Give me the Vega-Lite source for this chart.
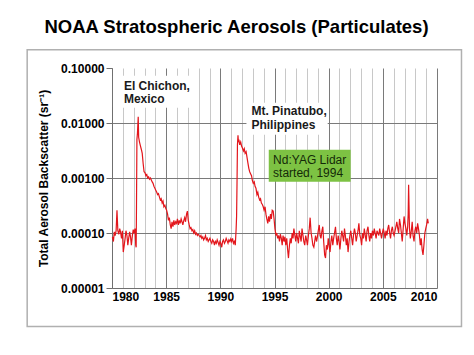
{
  "$schema": "https://vega.github.io/schema/vega-lite/v6.json",
  "width": 325,
  "height": 220,
  "autosize": {"type": "none"},
  "padding": {"left": 112, "top": 68, "right": 37, "bottom": 67},
  "background": "white",
  "config": {"font": "Liberation Sans", "view": {"stroke": null}},
  "title": {
    "text": "NOAA Stratospheric Aerosols (Particulates)",
    "fontSize": 18.5,
    "fontWeight": "bold",
    "font": "Liberation Sans",
    "color": "black",
    "anchor": "middle",
    "dx": -38,
    "offset": 12
  },
  "datasets": {
    "series": [
      {"t":1980.04,"v":0.000085},{"t":1980.13,"v":0.00007},{"t":1980.21,"v":0.000105},{"t":1980.29,"v":0.00009},{"t":1980.38,"v":0.00011},{"t":1980.46,"v":0.00026},{"t":1980.54,"v":0.00011},{"t":1980.63,"v":0.000095},{"t":1980.71,"v":0.00012},{"t":1980.79,"v":0.000105},{"t":1980.88,"v":0.00008},{"t":1980.96,"v":0.00011},
      {"t":1981.04,"v":0.000045},{"t":1981.13,"v":0.00006},{"t":1981.21,"v":0.00008},{"t":1981.29,"v":0.00011},{"t":1981.38,"v":0.00009},{"t":1981.46,"v":0.00006},{"t":1981.54,"v":0.00008},{"t":1981.63,"v":0.000105},{"t":1981.71,"v":0.000085},{"t":1981.79,"v":0.00006},{"t":1981.88,"v":0.00009},{"t":1981.96,"v":0.000115},
      {"t":1982.04,"v":0.0001},{"t":1982.13,"v":0.00012},{"t":1982.19,"v":0.00006},{"t":1982.23,"v":0.000055},{"t":1982.26,"v":0.0003},{"t":1982.3,"v":0.005},{"t":1982.35,"v":0.0065},{"t":1982.42,"v":0.013},{"t":1982.46,"v":0.0055},{"t":1982.54,"v":0.0045},{"t":1982.63,"v":0.0038},{"t":1982.71,"v":0.0033},{"t":1982.79,"v":0.0028},{"t":1982.88,"v":0.0018},{"t":1982.96,"v":0.0013},
      {"t":1983.04,"v":0.00125},{"t":1983.13,"v":0.0011},{"t":1983.21,"v":0.00115},{"t":1983.29,"v":0.001},{"t":1983.38,"v":0.00105},{"t":1983.46,"v":0.00095},{"t":1983.54,"v":0.001},{"t":1983.63,"v":0.00092},{"t":1983.71,"v":0.00085},{"t":1983.79,"v":0.0008},{"t":1983.88,"v":0.0007},{"t":1983.96,"v":0.00065},
      {"t":1984.04,"v":0.0006},{"t":1984.13,"v":0.00055},{"t":1984.21,"v":0.0005},{"t":1984.29,"v":0.00052},{"t":1984.38,"v":0.00045},{"t":1984.46,"v":0.0004},{"t":1984.54,"v":0.00042},{"t":1984.63,"v":0.00035},{"t":1984.71,"v":0.00038},{"t":1984.79,"v":0.0003},{"t":1984.88,"v":0.00032},{"t":1984.96,"v":0.00028},
      {"t":1985.04,"v":0.00026},{"t":1985.13,"v":0.00022},{"t":1985.21,"v":0.00017},{"t":1985.29,"v":0.00019},{"t":1985.38,"v":0.00014},{"t":1985.46,"v":0.00012},{"t":1985.54,"v":0.00016},{"t":1985.63,"v":0.00013},{"t":1985.71,"v":0.00017},{"t":1985.79,"v":0.00014},{"t":1985.88,"v":0.00016},{"t":1985.96,"v":0.00015},
      {"t":1986.04,"v":0.00018},{"t":1986.13,"v":0.00014},{"t":1986.21,"v":0.00017},{"t":1986.29,"v":0.00015},{"t":1986.38,"v":0.00018},{"t":1986.46,"v":0.00016},{"t":1986.54,"v":0.00014},{"t":1986.63,"v":0.00017},{"t":1986.71,"v":0.00019},{"t":1986.79,"v":0.00016},{"t":1986.88,"v":0.00022},{"t":1986.96,"v":0.00025},
      {"t":1987.04,"v":0.00017},{"t":1987.13,"v":0.00014},{"t":1987.21,"v":0.00012},{"t":1987.29,"v":0.000125},{"t":1987.38,"v":0.00011},{"t":1987.46,"v":0.000115},{"t":1987.54,"v":0.0001},{"t":1987.63,"v":0.00011},{"t":1987.71,"v":0.000095},{"t":1987.79,"v":0.0001},{"t":1987.88,"v":0.00009},{"t":1987.96,"v":0.000095},
      {"t":1988.04,"v":0.00009},{"t":1988.13,"v":0.000085},{"t":1988.21,"v":0.00009},{"t":1988.29,"v":0.00008},{"t":1988.38,"v":0.000085},{"t":1988.46,"v":0.000075},{"t":1988.54,"v":0.00008},{"t":1988.63,"v":0.00009},{"t":1988.71,"v":0.000075},{"t":1988.79,"v":0.00008},{"t":1988.88,"v":0.00007},{"t":1988.96,"v":0.000075},
      {"t":1989.04,"v":0.00008},{"t":1989.13,"v":0.00007},{"t":1989.21,"v":0.000065},{"t":1989.29,"v":0.000075},{"t":1989.38,"v":0.00007},{"t":1989.46,"v":0.00006},{"t":1989.54,"v":0.00007},{"t":1989.63,"v":0.000065},{"t":1989.71,"v":0.000075},{"t":1989.79,"v":0.000068},{"t":1989.88,"v":0.00006},{"t":1989.96,"v":0.00007},
      {"t":1990.04,"v":0.000065},{"t":1990.13,"v":0.000055},{"t":1990.21,"v":0.00007},{"t":1990.29,"v":0.000075},{"t":1990.38,"v":0.000065},{"t":1990.46,"v":0.00007},{"t":1990.54,"v":0.00008},{"t":1990.63,"v":0.000072},{"t":1990.71,"v":0.000065},{"t":1990.79,"v":0.000075},{"t":1990.88,"v":0.00007},{"t":1990.96,"v":0.000078},
      {"t":1991.04,"v":0.00007},{"t":1991.13,"v":0.00008},{"t":1991.21,"v":0.000065},{"t":1991.29,"v":0.00007},{"t":1991.38,"v":0.00006},{"t":1991.46,"v":0.00012},{"t":1991.5,"v":0.0002},{"t":1991.54,"v":0.0008},{"t":1991.58,"v":0.004},{"t":1991.63,"v":0.006},{"t":1991.67,"v":0.0045},{"t":1991.71,"v":0.005},{"t":1991.79,"v":0.004},{"t":1991.88,"v":0.0045},{"t":1991.96,"v":0.0038},
      {"t":1992.04,"v":0.0035},{"t":1992.13,"v":0.0031},{"t":1992.21,"v":0.0034},{"t":1992.29,"v":0.0028},{"t":1992.38,"v":0.003},{"t":1992.46,"v":0.0024},{"t":1992.54,"v":0.0019},{"t":1992.63,"v":0.0015},{"t":1992.71,"v":0.0013},{"t":1992.79,"v":0.0012},{"t":1992.88,"v":0.0011},{"t":1992.96,"v":0.0009},
      {"t":1993.04,"v":0.0008},{"t":1993.13,"v":0.00085},{"t":1993.21,"v":0.0007},{"t":1993.29,"v":0.00065},{"t":1993.38,"v":0.0005},{"t":1993.46,"v":0.00055},{"t":1993.54,"v":0.00045},{"t":1993.63,"v":0.0004},{"t":1993.71,"v":0.00042},{"t":1993.79,"v":0.00035},{"t":1993.88,"v":0.00033},{"t":1993.96,"v":0.0003},
      {"t":1994.04,"v":0.00026},{"t":1994.13,"v":0.0003},{"t":1994.21,"v":0.00022},{"t":1994.29,"v":0.00018},{"t":1994.38,"v":0.00015},{"t":1994.46,"v":0.0002},{"t":1994.54,"v":0.00016},{"t":1994.63,"v":0.00022},{"t":1994.71,"v":0.00018},{"t":1994.79,"v":0.00026},{"t":1994.88,"v":0.00025},{"t":1994.96,"v":0.00018},
      {"t":1995.04,"v":0.00012},{"t":1995.13,"v":0.00009},{"t":1995.21,"v":0.0001},{"t":1995.29,"v":0.00008},{"t":1995.38,"v":0.00009},{"t":1995.46,"v":0.00007},{"t":1995.54,"v":0.000095},{"t":1995.63,"v":0.00008},{"t":1995.71,"v":0.00006},{"t":1995.79,"v":0.00009},{"t":1995.88,"v":0.00007},{"t":1995.96,"v":0.000085},
      {"t":1996.04,"v":0.00006},{"t":1996.13,"v":0.00008},{"t":1996.21,"v":0.00005},{"t":1996.29,"v":0.000035},{"t":1996.38,"v":0.00006},{"t":1996.46,"v":0.00008},{"t":1996.54,"v":0.000065},{"t":1996.63,"v":0.0001},{"t":1996.71,"v":0.00008},{"t":1996.79,"v":0.00012},{"t":1996.88,"v":0.00009},{"t":1996.96,"v":0.00007},
      {"t":1997.04,"v":0.0001},{"t":1997.13,"v":0.00008},{"t":1997.21,"v":0.000065},{"t":1997.29,"v":0.00011},{"t":1997.38,"v":0.000085},{"t":1997.46,"v":0.00007},{"t":1997.54,"v":0.00012},{"t":1997.63,"v":0.00009},{"t":1997.71,"v":0.00007},{"t":1997.79,"v":0.00006},{"t":1997.88,"v":0.00009},{"t":1997.96,"v":0.000075},
      {"t":1998.04,"v":0.00006},{"t":1998.13,"v":0.00009},{"t":1998.21,"v":0.00012},{"t":1998.29,"v":0.00019},{"t":1998.38,"v":0.0001},{"t":1998.46,"v":0.00008},{"t":1998.54,"v":0.00006},{"t":1998.63,"v":0.000055},{"t":1998.71,"v":0.00007},{"t":1998.79,"v":0.00009},{"t":1998.88,"v":0.00007},{"t":1998.96,"v":0.000085},
      {"t":1999.04,"v":0.00011},{"t":1999.13,"v":0.00014},{"t":1999.21,"v":0.00009},{"t":1999.29,"v":0.00008},{"t":1999.38,"v":0.00011},{"t":1999.46,"v":0.00013},{"t":1999.54,"v":0.00007},{"t":1999.63,"v":0.00004},{"t":1999.71,"v":0.000035},{"t":1999.79,"v":0.00006},{"t":1999.88,"v":0.00005},{"t":1999.96,"v":0.00008},
      {"t":2000.04,"v":0.00006},{"t":2000.13,"v":0.000045},{"t":2000.21,"v":0.00007},{"t":2000.29,"v":0.00009},{"t":2000.38,"v":0.00006},{"t":2000.46,"v":0.00008},{"t":2000.54,"v":0.0001},{"t":2000.63,"v":0.00013},{"t":2000.71,"v":0.00008},{"t":2000.79,"v":0.00006},{"t":2000.88,"v":0.00009},{"t":2000.96,"v":0.00007},
      {"t":2001.04,"v":0.00005},{"t":2001.13,"v":0.00008},{"t":2001.21,"v":0.00011},{"t":2001.29,"v":0.00009},{"t":2001.38,"v":0.00007},{"t":2001.46,"v":0.00012},{"t":2001.54,"v":0.00009},{"t":2001.63,"v":0.00006},{"t":2001.71,"v":0.00008},{"t":2001.79,"v":0.000045},{"t":2001.88,"v":0.00007},{"t":2001.96,"v":0.00009},
      {"t":2002.04,"v":0.00011},{"t":2002.13,"v":0.00008},{"t":2002.21,"v":0.00006},{"t":2002.29,"v":0.00009},{"t":2002.38,"v":0.00012},{"t":2002.46,"v":0.0001},{"t":2002.54,"v":0.00007},{"t":2002.63,"v":0.00009},{"t":2002.71,"v":0.00011},{"t":2002.79,"v":0.00015},{"t":2002.88,"v":0.00009},{"t":2002.96,"v":0.00008},
      {"t":2003.04,"v":0.00006},{"t":2003.13,"v":0.0001},{"t":2003.21,"v":0.00008},{"t":2003.29,"v":0.00012},{"t":2003.38,"v":0.00009},{"t":2003.46,"v":0.00007},{"t":2003.54,"v":0.00011},{"t":2003.63,"v":0.00013},{"t":2003.71,"v":0.00009},{"t":2003.79,"v":0.00007},{"t":2003.88,"v":0.0001},{"t":2003.96,"v":0.00008},
      {"t":2004.04,"v":0.00011},{"t":2004.13,"v":0.00009},{"t":2004.21,"v":0.00012},{"t":2004.29,"v":0.0001},{"t":2004.38,"v":0.00008},{"t":2004.46,"v":0.00011},{"t":2004.54,"v":0.0001},{"t":2004.63,"v":0.00009},{"t":2004.71,"v":0.00012},{"t":2004.79,"v":0.0001},{"t":2004.88,"v":0.00008},{"t":2004.96,"v":0.0001},
      {"t":2005.04,"v":0.00012},{"t":2005.13,"v":0.0001},{"t":2005.21,"v":0.00008},{"t":2005.29,"v":0.00011},{"t":2005.38,"v":0.00009},{"t":2005.46,"v":0.00012},{"t":2005.54,"v":0.00014},{"t":2005.63,"v":0.0001},{"t":2005.71,"v":0.00008},{"t":2005.79,"v":0.00011},{"t":2005.88,"v":0.00013},{"t":2005.96,"v":0.0001},
      {"t":2006.04,"v":0.00009},{"t":2006.13,"v":0.00011},{"t":2006.21,"v":0.00013},{"t":2006.29,"v":0.00016},{"t":2006.38,"v":0.00012},{"t":2006.46,"v":0.0001},{"t":2006.54,"v":0.00018},{"t":2006.63,"v":0.00014},{"t":2006.71,"v":0.0001},{"t":2006.79,"v":0.00007},{"t":2006.88,"v":0.00012},{"t":2006.96,"v":0.0002},
      {"t":2007.04,"v":0.00015},{"t":2007.13,"v":0.00012},{"t":2007.21,"v":0.00009},{"t":2007.29,"v":0.00013},{"t":2007.34,"v":0.00022},{"t":2007.38,"v":0.00075},{"t":2007.46,"v":0.00012},{"t":2007.54,"v":0.00008},{"t":2007.63,"v":0.00011},{"t":2007.71,"v":0.00016},{"t":2007.79,"v":0.00009},{"t":2007.88,"v":0.00007},{"t":2007.96,"v":0.00011},
      {"t":2008.04,"v":0.00013},{"t":2008.13,"v":0.0001},{"t":2008.21,"v":0.00015},{"t":2008.29,"v":0.00012},{"t":2008.38,"v":0.00009},{"t":2008.46,"v":0.00006},{"t":2008.54,"v":0.00008},{"t":2008.63,"v":0.00005},{"t":2008.71,"v":0.00004},{"t":2008.79,"v":0.00006},{"t":2008.88,"v":0.0001},{"t":2008.96,"v":0.00012},
      {"t":2009.04,"v":0.00014},{"t":2009.13,"v":0.00018},{"t":2009.2,"v":0.00015}
    ],
    "boxes": [
      {"x1":1972.17,"x2":2012.26,"y1":0.215,"y2":0.000002,"kind":"frame"},
      {"x1":1980.09,"x2":1987.65,"y1":0.0724,"y2":0.019,"kind":"white"},
      {"x1":1992.41,"x2":1999.91,"y1":0.0234,"y2":0.00612,"kind":"white"},
      {"x1":1994.47,"x2":2002.03,"y1":0.00327,"y2":0.000857,"kind":"green"}
    ],
    "notes": [
      {"t":1981.1,"v":0.0477,"label":"El Chichon,","kind":"volcano"},
      {"t":1981.1,"v":0.0277,"label":"Mexico","kind":"volcano"},
      {"t":1992.87,"v":0.01626,"label":"Mt. Pinatubo,","kind":"volcano"},
      {"t":1992.87,"v":0.0093,"label":"Philippines","kind":"volcano"},
      {"t":1994.87,"v":0.00215,"label":"Nd:YAG Lidar","kind":"lidar"},
      {"t":1994.87,"v":0.00123,"label":"started, 1994","kind":"lidar"}
    ]
  },
  "encoding": {
    "x": {
      "field": "t",
      "type": "quantitative",
      "scale": {"domain": [1980, 2010], "nice": false, "zero": false},
      "axis": {
        "title": null,
        "values": [1980,1981,1982,1983,1984,1985,1986,1987,1988,1989,1990,1991,1992,1993,1994,1995,1996,1997,1998,1999,2000,2001,2002,2003,2004,2005,2006,2007,2008,2009,2010],
        "labelExpr": "datum.value % 5 === 0 ? format(datum.value, 'd') : ''",
        "labelFont": "Liberation Sans",
        "labelFontSize": 12,
        "labelFontWeight": "bold",
        "labelColor": "black",
        "labelPadding": 3,
        "ticks": false,
        "domainColor": "#6f6f6f",
        "grid": true,
        "gridColor": {"condition": {"test": "datum.value % 5 === 0", "value": "#7a7a7a"}, "value": "#c8c8c8"},
        "gridWidth": 1,
        "zindex": 0
      }
    },
    "y": {
      "field": "v",
      "type": "quantitative",
      "scale": {"type": "log", "domain": [0.00001, 0.1], "nice": false},
      "axis": {
        "title": "Total Aerosol Backscatter (sr⁻¹)",
        "titleFont": "Liberation Sans",
        "titleFontSize": 12,
        "titleFontWeight": "bold",
        "titleColor": "black",
        "titlePadding": 10,
        "values": [0.00001, 0.0001, 0.001, 0.01, 0.1],
        "format": ".5f",
        "labelFont": "Liberation Sans",
        "labelFontSize": 12,
        "labelFontWeight": "bold",
        "labelColor": "black",
        "labelPadding": 2,
        "tickSize": 6,
        "tickColor": "#6f6f6f",
        "domainColor": "#6f6f6f",
        "grid": true,
        "gridColor": "#7a7a7a",
        "gridOpacity": {"condition": {"test": "datum.value > 0.05 || datum.value < 0.00002", "value": 0}, "value": 1},
        "zindex": 0
      }
    }
  },
  "layer": [
    {
      "data": {"name": "boxes"},
      "transform": [{"filter": "datum.kind === 'frame'"}],
      "mark": {"type": "rect", "fill": null, "stroke": "#b0b0b0", "strokeWidth": 1.5, "clip": false},
      "encoding": {
        "x": {"field": "x1", "type": "quantitative"},
        "x2": {"field": "x2"},
        "y": {"field": "y1", "type": "quantitative"},
        "y2": {"field": "y2"}
      }
    },
    {
      "data": {"name": "boxes"},
      "transform": [{"filter": "datum.kind !== 'frame'"}],
      "mark": {"type": "rect"},
      "encoding": {
        "x": {"field": "x1", "type": "quantitative"},
        "x2": {"field": "x2"},
        "y": {"field": "y1", "type": "quantitative"},
        "y2": {"field": "y2"},
        "color": {"field": "kind", "type": "nominal", "scale": {"domain": ["white", "green"], "range": ["#ffffff", "#7dc243"]}, "legend": null}
      }
    },
    {
      "data": {"name": "series"},
      "mark": {"type": "line", "color": "#e3161c", "strokeWidth": 1.2},
      "encoding": {}
    },
    {
      "data": {"name": "notes"},
      "transform": [{"filter": "datum.kind === 'volcano'"}],
      "mark": {"type": "text", "align": "left", "baseline": "middle", "font": "Liberation Sans", "fontSize": 12, "fontWeight": "bold", "color": "#1a1a1a"},
      "encoding": {"text": {"field": "label"}}
    },
    {
      "data": {"name": "notes"},
      "transform": [{"filter": "datum.kind === 'lidar'"}],
      "mark": {"type": "text", "align": "left", "baseline": "middle", "font": "Liberation Sans", "fontSize": 12, "color": "#142a08"},
      "encoding": {"text": {"field": "label"}}
    }
  ]
}
